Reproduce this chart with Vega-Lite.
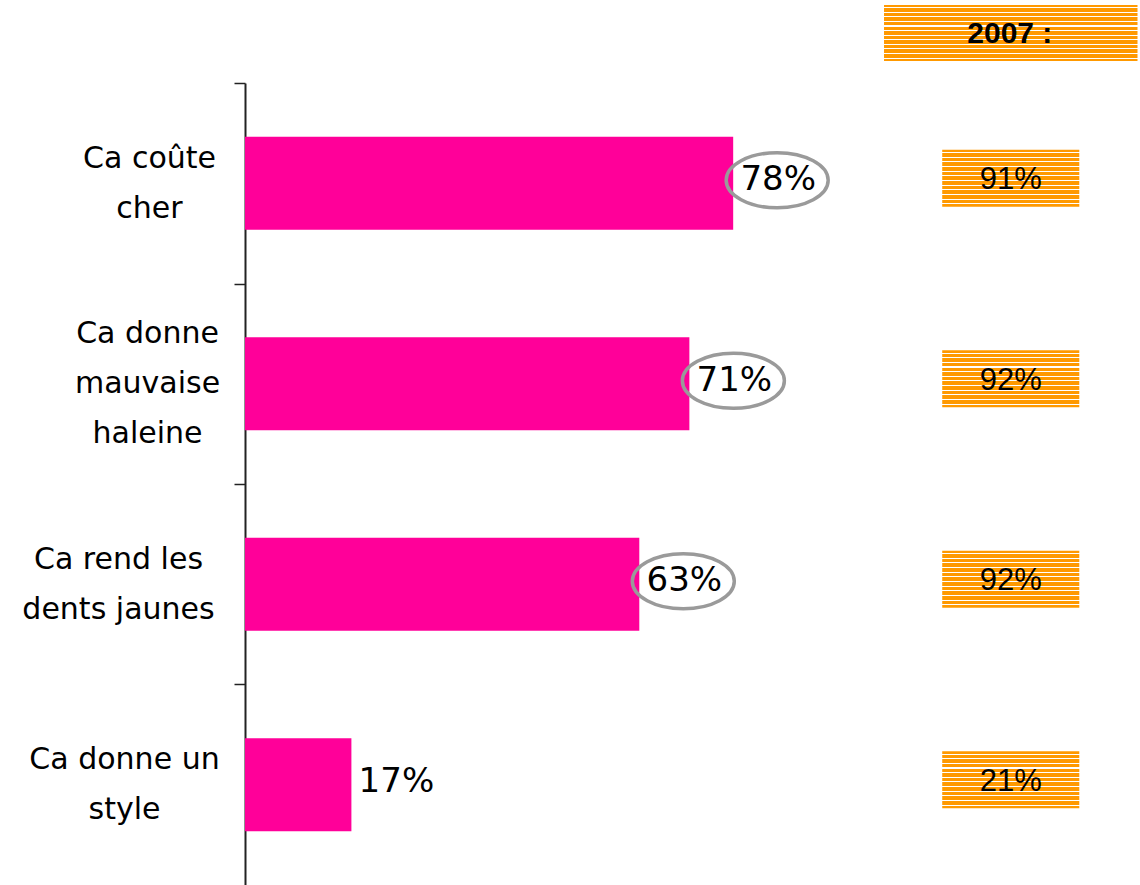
{
  "$schema": "https://vega.github.io/schema/vega-lite/v6.json",
  "width": 1140,
  "height": 885,
  "autosize": {"type": "fit", "contains": "padding"},
  "padding": 0,
  "background": "white",
  "config": {"view": {"stroke": null}},
  "resolve": {"scale": {"y": "independent"}, "axis": {"y": "independent"}},
  "layer": [
    {
      "data": {"values": [
        {"item": "Ca coûte cher", "pct": 0.78, "pct2007": 0.91, "circled": true},
        {"item": "Ca donne mauvaise haleine", "pct": 0.71, "pct2007": 0.92, "circled": true},
        {"item": "Ca rend les dents jaunes", "pct": 0.63, "pct2007": 0.92, "circled": true},
        {"item": "Ca donne un style", "pct": 0.17, "pct2007": 0.21, "circled": false}
      ]},
      "encoding": {
        "y": {
          "field": "item", "type": "nominal",
          "scale": {"domain": ["Ca coûte cher", "Ca donne mauvaise haleine", "Ca rend les dents jaunes", "Ca donne un style"], "range": [83, 885], "paddingInner": 0.536, "paddingOuter": 0.268},
          "axis": {
            "title": null,
            "domainColor": "#222222", "domainWidth": 2,
            "tickColor": "#222222", "tickWidth": 1.5, "tickSize": 11, "tickOffset": -100.25,
            "labelFont": "DejaVu Sans", "labelFontSize": 30, "labelColor": "black",
            "labelLineHeight": 50, "labelLimit": 400, "labelAngle": 0,
            "labelBaseline": "middle", "labelAlign": "center",
            "labelPadding": {"condition": [
              {"test": "datum.value == 'Ca coûte cher'", "value": 85},
              {"test": "datum.value == 'Ca donne mauvaise haleine'", "value": 87},
              {"test": "datum.value == 'Ca rend les dents jaunes'", "value": 116}
            ], "value": 110},
            "labelOffset": {"condition": {"test": "datum.value == 'Ca donne mauvaise haleine'", "value": 50.25}, "value": 75.25},
            "minExtent": 245, "labelOverlap": false,
            "labelExpr": "datum.value == 'Ca coûte cher' ? ['Ca coûte','cher'] : datum.value == 'Ca donne mauvaise haleine' ? ['Ca donne','mauvaise','haleine'] : datum.value == 'Ca rend les dents jaunes' ? ['Ca rend les','dents jaunes'] : ['Ca donne un','style']"
          }
        }
      },
      "layer": [
        {
          "mark": {"type": "bar", "color": "#FF0099"},
          "encoding": {
            "x": {"field": "pct", "type": "quantitative", "scale": {"domain": [0, 1.43], "nice": false, "zero": true}, "axis": null}
          }
        },
        {
          "transform": [{"filter": "datum.circled"}],
          "mark": {"type": "point", "shape": "M-1,0 C-1,-0.298 -0.552,-0.54 0,-0.54 C0.552,-0.54 1,-0.298 1,0 C1,0.298 0.552,0.54 0,0.54 C-0.552,0.54 -1,0.298 -1,0 Z", "size": 10404, "filled": false, "stroke": "#9a9a9a", "strokeWidth": 3.5, "opacity": 1, "xOffset": 44, "yOffset": -3},
          "encoding": {
            "x": {"field": "pct", "type": "quantitative", "axis": null}
          }
        },
        {
          "mark": {"type": "text", "font": "DejaVu Sans", "fontSize": 34, "align": "center", "baseline": "middle", "dx": 45, "dy": -3, "color": "black"},
          "encoding": {
            "x": {"field": "pct", "type": "quantitative", "axis": null},
            "text": {"field": "pct", "type": "quantitative", "format": ".0%"}
          }
        },
        {
          "mark": {"type": "bar", "height": 57, "yOffset": -5, "fill": {"gradient": "linear", "x1": 0, "y1": 0, "x2": 0, "y2": 1, "stops": [
            {"offset": 0, "color": "#FF9900"},
            {"offset": 0.040, "color": "#FF9900"}, {"offset": 0.040, "color": "#FFFFFF"}, {"offset": 0.058, "color": "#FFFFFF"}, {"offset": 0.058, "color": "#FF9900"},
            {"offset": 0.122, "color": "#FF9900"}, {"offset": 0.122, "color": "#FFFFFF"}, {"offset": 0.140, "color": "#FFFFFF"}, {"offset": 0.140, "color": "#FF9900"},
            {"offset": 0.203, "color": "#FF9900"}, {"offset": 0.203, "color": "#FFFFFF"}, {"offset": 0.221, "color": "#FFFFFF"}, {"offset": 0.221, "color": "#FF9900"},
            {"offset": 0.285, "color": "#FF9900"}, {"offset": 0.285, "color": "#FFFFFF"}, {"offset": 0.303, "color": "#FFFFFF"}, {"offset": 0.303, "color": "#FF9900"},
            {"offset": 0.366, "color": "#FF9900"}, {"offset": 0.366, "color": "#FFFFFF"}, {"offset": 0.384, "color": "#FFFFFF"}, {"offset": 0.384, "color": "#FF9900"},
            {"offset": 0.448, "color": "#FF9900"}, {"offset": 0.448, "color": "#FFFFFF"}, {"offset": 0.466, "color": "#FFFFFF"}, {"offset": 0.466, "color": "#FF9900"},
            {"offset": 0.530, "color": "#FF9900"}, {"offset": 0.530, "color": "#FFFFFF"}, {"offset": 0.548, "color": "#FFFFFF"}, {"offset": 0.548, "color": "#FF9900"},
            {"offset": 0.611, "color": "#FF9900"}, {"offset": 0.611, "color": "#FFFFFF"}, {"offset": 0.629, "color": "#FFFFFF"}, {"offset": 0.629, "color": "#FF9900"},
            {"offset": 0.693, "color": "#FF9900"}, {"offset": 0.693, "color": "#FFFFFF"}, {"offset": 0.711, "color": "#FFFFFF"}, {"offset": 0.711, "color": "#FF9900"},
            {"offset": 0.774, "color": "#FF9900"}, {"offset": 0.774, "color": "#FFFFFF"}, {"offset": 0.792, "color": "#FFFFFF"}, {"offset": 0.792, "color": "#FF9900"},
            {"offset": 0.856, "color": "#FF9900"}, {"offset": 0.856, "color": "#FFFFFF"}, {"offset": 0.874, "color": "#FFFFFF"}, {"offset": 0.874, "color": "#FF9900"},
            {"offset": 0.938, "color": "#FF9900"}, {"offset": 0.938, "color": "#FFFFFF"}, {"offset": 0.956, "color": "#FFFFFF"}, {"offset": 0.956, "color": "#FF9900"},
            {"offset": 1, "color": "#FF9900"}
          ]}},
          "encoding": {
            "x": {"datum": 1.114, "type": "quantitative", "axis": null},
            "x2": {"datum": 1.333}
          }
        },
        {
          "mark": {"type": "text", "font": "Liberation Sans", "fontSize": 31, "align": "center", "baseline": "middle", "dy": -3, "color": "black"},
          "encoding": {
            "x": {"datum": 1.2235, "type": "quantitative", "axis": null},
            "text": {"field": "pct2007", "type": "quantitative", "format": ".0%"}
          }
        }
      ]
    },
    {
      "data": {"values": [{"label": "2007 :"}]},
      "encoding": {
        "y": {"field": "label", "type": "nominal", "scale": {"range": [0, 83], "paddingInner": 0, "paddingOuter": 0}, "axis": null}
      },
      "layer": [
        {
          "mark": {"type": "bar", "height": 56, "yOffset": -8.5, "fill": {"gradient": "linear", "x1": 0, "y1": 0, "x2": 0, "y2": 1, "stops": [
            {"offset": 0, "color": "#FF9900"},
            {"offset": 0.040, "color": "#FF9900"}, {"offset": 0.040, "color": "#FFFFFF"}, {"offset": 0.058, "color": "#FFFFFF"}, {"offset": 0.058, "color": "#FF9900"},
            {"offset": 0.122, "color": "#FF9900"}, {"offset": 0.122, "color": "#FFFFFF"}, {"offset": 0.140, "color": "#FFFFFF"}, {"offset": 0.140, "color": "#FF9900"},
            {"offset": 0.203, "color": "#FF9900"}, {"offset": 0.203, "color": "#FFFFFF"}, {"offset": 0.221, "color": "#FFFFFF"}, {"offset": 0.221, "color": "#FF9900"},
            {"offset": 0.285, "color": "#FF9900"}, {"offset": 0.285, "color": "#FFFFFF"}, {"offset": 0.303, "color": "#FFFFFF"}, {"offset": 0.303, "color": "#FF9900"},
            {"offset": 0.366, "color": "#FF9900"}, {"offset": 0.366, "color": "#FFFFFF"}, {"offset": 0.384, "color": "#FFFFFF"}, {"offset": 0.384, "color": "#FF9900"},
            {"offset": 0.448, "color": "#FF9900"}, {"offset": 0.448, "color": "#FFFFFF"}, {"offset": 0.466, "color": "#FFFFFF"}, {"offset": 0.466, "color": "#FF9900"},
            {"offset": 0.530, "color": "#FF9900"}, {"offset": 0.530, "color": "#FFFFFF"}, {"offset": 0.548, "color": "#FFFFFF"}, {"offset": 0.548, "color": "#FF9900"},
            {"offset": 0.611, "color": "#FF9900"}, {"offset": 0.611, "color": "#FFFFFF"}, {"offset": 0.629, "color": "#FFFFFF"}, {"offset": 0.629, "color": "#FF9900"},
            {"offset": 0.693, "color": "#FF9900"}, {"offset": 0.693, "color": "#FFFFFF"}, {"offset": 0.711, "color": "#FFFFFF"}, {"offset": 0.711, "color": "#FF9900"},
            {"offset": 0.774, "color": "#FF9900"}, {"offset": 0.774, "color": "#FFFFFF"}, {"offset": 0.792, "color": "#FFFFFF"}, {"offset": 0.792, "color": "#FF9900"},
            {"offset": 0.856, "color": "#FF9900"}, {"offset": 0.856, "color": "#FFFFFF"}, {"offset": 0.874, "color": "#FFFFFF"}, {"offset": 0.874, "color": "#FF9900"},
            {"offset": 0.938, "color": "#FF9900"}, {"offset": 0.938, "color": "#FFFFFF"}, {"offset": 0.956, "color": "#FFFFFF"}, {"offset": 0.956, "color": "#FF9900"},
            {"offset": 1, "color": "#FF9900"}
          ]}},
          "encoding": {
            "x": {"datum": 1.021, "type": "quantitative", "axis": null},
            "x2": {"datum": 1.426}
          }
        },
        {
          "mark": {"type": "text", "font": "Liberation Sans", "fontWeight": "bold", "fontSize": 30, "align": "center", "baseline": "middle", "dy": -8, "color": "black"},
          "encoding": {
            "x": {"datum": 1.222, "type": "quantitative", "axis": null},
            "text": {"field": "label", "type": "nominal"}
          }
        }
      ]
    }
  ]
}
